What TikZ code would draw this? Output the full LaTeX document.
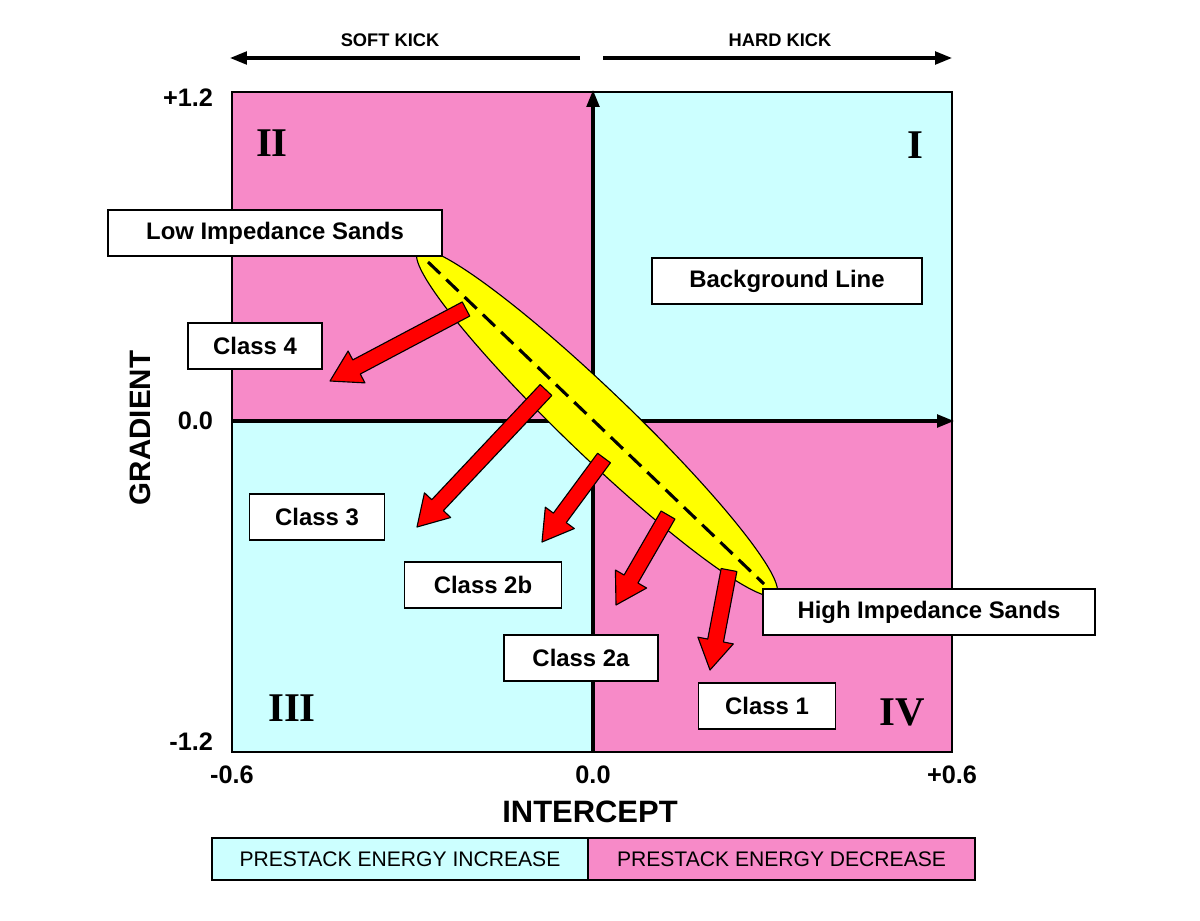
\documentclass[tikz,border=0pt]{standalone}
\usepackage{fontspec}
\setmainfont{Liberation Sans}
\newfontfamily\romanf{Liberation Serif}
\usetikzlibrary{calc,arrows.meta}
\definecolor{pinkq}{HTML}{F78AC8}
\definecolor{cyanq}{HTML}{CCFFFF}
\definecolor{yel}{HTML}{FFFF00}
\newcommand\redarr[2]{%
  \path coordinate (H) at ($(#2)!0.75cm!(#1)$);
  \filldraw[fill=red,draw=black,line width=0.8pt,line join=round]
   ($(#1)!0.2cm!90:(#2)$) -- ($(H)!0.2cm!-90:(#1)$) -- ($(H)!0.45cm!-90:(#1)$) -- (#2)
   -- ($(H)!0.45cm!90:(#1)$) -- ($(H)!0.2cm!90:(#1)$) -- ($(#1)!0.2cm!-90:(#2)$) -- cycle;}
\begin{document}
\begin{tikzpicture}[x=0.025cm,y=-0.025cm,
  lbl/.style={draw=black,fill=white,line width=1.2pt,font=\bfseries\fontsize{17}{19}\selectfont,inner sep=0pt,minimum height=1.15cm},
  quad/.style={font=\romanf\bfseries\fontsize{29}{32}\selectfont},
  tick/.style={font=\bfseries\fontsize{18}{20}\selectfont},
  axis/.style={line width=2.2pt,-{Triangle[length=12pt,width=9pt]}}]
\useasboundingbox (0,0) rectangle (1200,920);
\fill[white] (0,0) rectangle (1200,920);
\fill[pinkq] (232,92) rectangle (593,421);
\fill[cyanq] (593,92) rectangle (952,421);
\fill[cyanq] (232,421) rectangle (593,752);
\fill[pinkq] (593,421) rectangle (952,752);
\draw[line width=1pt] (232,92) rectangle (952,752);
\node[quad] (q2) at (272,143) {II};
\node[quad] (q1) at (915,145) {I};
\node[quad] (q3) at (292,708) {III};
\node[quad] (q4) at (902,712) {IV};
% axes
\coordinate (ab) at (593,752); \coordinate (at) at (593,90);
\coordinate (al) at (232,421); \coordinate (ar) at (954,421);
\draw[axis] (ab) -- (at);
\draw[axis] (al) -- (ar);
% ellipse
\coordinate (ec) at (597,423);
\fill[yel,draw=black,line width=0.8pt,rotate around={-43.8:(ec)}] (ec) ellipse [x radius=248,y radius=33];
\coordinate (d1) at (428,262);
\coordinate (d2) at (764,584);
\draw[line width=2.2pt,dash pattern=on 12pt off 6pt] (d1) -- (d2);
% red arrows
\coordinate (s1) at (466,309); \coordinate (e1) at (330,381);
\coordinate (s2) at (546,390); \coordinate (e2) at (417,527);
\coordinate (s3) at (604,458); \coordinate (e3) at (542,542);
\coordinate (s4) at (668,515); \coordinate (e4) at (616,605);
\coordinate (s5) at (729,570); \coordinate (e5) at (710,670);
\redarr{s1}{e1}\redarr{s2}{e2}\redarr{s3}{e3}\redarr{s4}{e4}\redarr{s5}{e5}
% labels
\node[lbl,minimum width=334*0.025cm] (low) at (275,233) {Low Impedance Sands};
\node[lbl,minimum width=270*0.025cm] (bg) at (787,281) {Background Line};
\node[lbl,minimum width=134*0.025cm] (c4) at (255,346) {Class 4};
\node[lbl,minimum width=135*0.025cm] (c3) at (317,517) {Class 3};
\node[lbl,minimum width=157*0.025cm] (c2b) at (483,585) {Class 2b};
\node[lbl,minimum width=154*0.025cm] (c2a) at (581,658) {Class 2a};
\node[lbl,minimum width=332*0.025cm] (high) at (929,612) {High Impedance Sands};
\node[lbl,minimum width=137*0.025cm] (c1) at (767,706) {Class 1};
% ticks
\node[tick,anchor=east] (y1) at (218,98) {+1.2};
\node[tick,anchor=east] (y0) at (218,421) {0.0};
\node[tick,anchor=east] (ym) at (218,742) {-1.2};
\node[tick] (x1) at (232,775) {-0.6};
\node[tick] (x0) at (593,775) {0.0};
\node[tick] (x2) at (952,775) {+0.6};
\node[font=\bfseries\fontsize{22}{24}\selectfont] (ix) at (590,812) {INTERCEPT};
\node[font=\bfseries\fontsize{21}{23}\selectfont,rotate=90] (gy) at (140,428) {GRADIENT};
% kick arrows
\coordinate (k1) at (580,58); \coordinate (k2) at (230,58);
\coordinate (k3) at (603,58); \coordinate (k4) at (952,58);
\draw[axis] (k1) -- (k2);
\draw[axis] (k3) -- (k4);
\node[font=\bfseries\fontsize{13}{15}\selectfont] (sk) at (390,40) {SOFT KICK};
\node[font=\bfseries\fontsize{13}{15}\selectfont] (hk) at (780,40) {HARD KICK};
% legend
\node[draw=black,fill=cyanq,line width=0.8pt,minimum width=376*0.025cm,minimum height=42*0.025cm,font=\fontsize{15}{17}\selectfont] (li) at (400,859) {PRESTACK ENERGY INCREASE};
\node[draw=black,fill=pinkq,line width=0.8pt,minimum width=387*0.025cm,minimum height=42*0.025cm,font=\fontsize{15}{17}\selectfont] (ld) at (781.5,859) {PRESTACK ENERGY DECREASE};
\end{tikzpicture}
\end{document}
